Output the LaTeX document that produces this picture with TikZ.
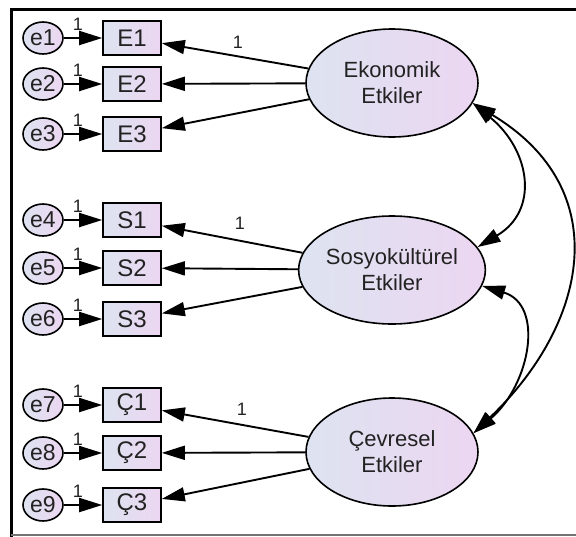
\documentclass[tikz,border=0pt]{standalone}
\usepackage{fontspec}
\setmainfont{Liberation Sans}
\usetikzlibrary{arrows.meta,shapes.geometric}
\definecolor{fillL}{HTML}{DDE3F1}
\definecolor{fillR}{HTML}{ECD6F1}
\definecolor{ink}{HTML}{222222}
\begin{document}
\begin{tikzpicture}[x=1pt,y=-1pt,
  every node/.style={font=\fontsize{23}{27}\selectfont, text=ink},
  err/.style={ellipse, draw=black, line width=1.6pt, minimum width=40pt, minimum height=32pt, inner sep=0pt, left color=fillL, right color=fillR},
  obs/.style={rectangle, draw=black, line width=1.6pt, minimum width=58pt, minimum height=34pt, inner sep=0pt, left color=fillL, right color=fillR, font=\fontsize{24}{28}\selectfont},
  lat/.style={ellipse, draw=black, line width=1.6pt, minimum width=172pt, minimum height=108pt, inner sep=0pt, align=center, left color=fillL, right color=fillR, font=\fontsize{22}{26}\selectfont},
  tip/.tip={Triangle[length=23pt,width=14pt]},
  pathline/.style={line width=1.9pt, -tip},
  covline/.style={line width=1.9pt, tip-tip},
  wlab/.style={font=\fontsize{18}{18}\selectfont, inner sep=0pt}
]
\useasboundingbox (0,0) rectangle (576,536);
% frame
\draw[line width=3pt] (11,537) -- (11,9) -- (577,9);
\draw[line width=2pt, black!55] (11,535) -- (577,535);

% latent variables
\node[lat] (Eko) at (392,83) {Ekonomik\\Etkiler};
\node[lat] (Sos) at (392,270) {Sosyokültürel\\Etkiler};
\node[lat] (Cev) at (392,452) {Çevresel\\Etkiler};

% indicators and errors
\foreach \i/\lab/\y/\lat in {1/E1/38/Eko, 2/E2/84/Eko, 3/E3/134/Eko,
                              4/S1/220/Sos, 5/S2/268/Sos, 6/S3/319/Sos,
                              7/Ç1/405/Cev, 8/Ç2/453/Cev, 9/Ç3/505/Cev}{
  \node[err] (e\i) at (43,\y) {e\i};
  \node[obs] (o\i) at (132,\y) {\lab};
  \draw[pathline] (e\i) -- (o\i);
  \node[wlab] (w\i) at (78,\y-14) {1};
  \draw[pathline] (\lat) -- (o\i);
}

% fixed loadings
\node[wlab] (l1) at (238,42) {1};
\node[wlab] (l2) at (240,223) {1};
\node[wlab] (l3) at (242,409) {1};

% covariances
\draw[covline] (Eko.-14) .. controls (530,150) and (540,210) .. (Sos.15);
\draw[covline] (Eko.-14) .. controls (617,190) and (587,325) .. (Cev.13);
\draw[covline] (Sos.-10) .. controls (545,305) and (530,385) .. (Cev.13);
\end{tikzpicture}
\end{document}
